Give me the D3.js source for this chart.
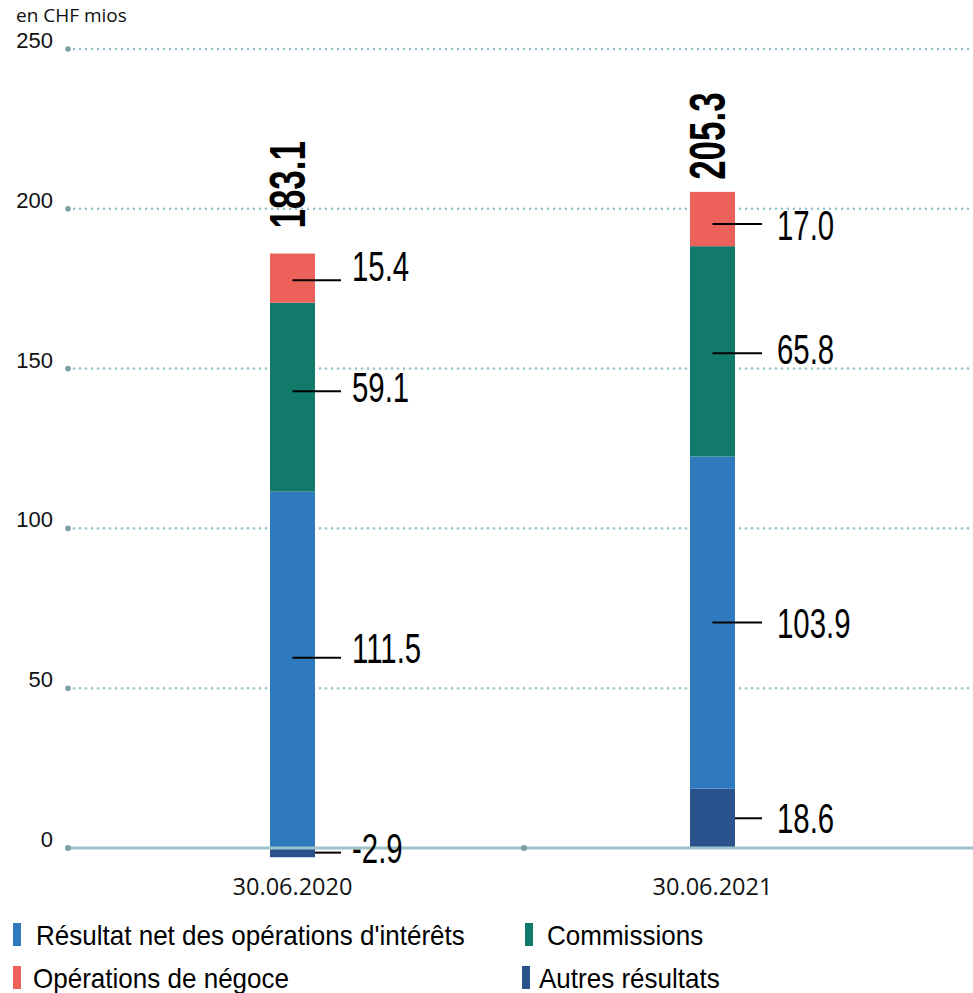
<!DOCTYPE html>
<html>
<head>
<meta charset="utf-8">
<script src="https://cdn.jsdelivr.net/npm/d3@7"></script>
<style>
  html, body { margin: 0; padding: 0; background: #fff; }
  svg { display: block; }
</style>
</head>
<body>
<svg id="chart" width="973" height="993"></svg>
<script>
// ---------------- DATA ----------------
const categories = ["30.06.2020", "30.06.2021"];
const seriesNames = ["Autres résultats", "Résultat net des opérations d'intérêts", "Commissions", "Opérations de négoce"];
const autres      = [-2.9, 18.6];
const interets    = [111.5, 103.9];
const commissions = [59.1, 65.8];
const negoce      = [15.4, 17.0];
const totals      = [183.1, 205.3];
const yTicks      = [0, 50, 100, 150, 200, 250];
const unitLabel   = "en CHF mios";

// ---------------- STYLE / LAYOUT ----------------
const colors = {
  "Autres résultats": "#2a528c",
  "Résultat net des opérations d'intérêts": "#2f7abf",
  "Commissions": "#127a6b",
  "Opérations de négoce": "#ec625b"
};
const gridLeft = 68, gridRight = 973;
const barWidth = 45;
// label vertical nudges (px) per category per series [autres, interets, commissions, negoce]
const textNudge = [[-5, -22, -10, -12], [0, 0, -2, 6]];
const lineNudge = [[0, -12, -6, 2], [0, 0, 2, 5]];
const totalGap  = [25, 12];
const labelX    = [352, 777];
const lineEndX  = [341, 762];
const condensed = 0.70;
const fmt = v => v.toFixed(1);

const svg = d3.select("#chart");

const y = d3.scaleLinear().domain([0, 250]).range([848, 49]);
const x = d3.scaleBand().domain(categories).range([82.5, 922.5]).paddingInner(0).paddingOuter(0);
const cx = c => x(c) + x.bandwidth() / 2;

// data table
const table = categories.map((c, i) => ({
  cat: c,
  "Autres résultats": autres[i],
  "Résultat net des opérations d'intérêts": interets[i],
  "Commissions": commissions[i],
  "Opérations de négoce": negoce[i]
}));
const stacked = d3.stack().keys(seriesNames).offset(d3.stackOffsetDiverging)(table);

// ---------------- GRID ----------------
const grid = svg.append("g");
yTicks.filter(t => t !== 0).forEach(t => {
  grid.append("line")
    .attr("x1", gridLeft).attr("x2", gridRight)
    .attr("y1", y(t)).attr("y2", y(t))
    .attr("stroke", "#93c3ca").attr("stroke-width", 2.6)
    .attr("stroke-linecap", "round").attr("stroke-dasharray", "0,6");
  grid.append("circle").attr("cx", gridLeft).attr("cy", y(t)).attr("r", 2.8).attr("fill", "#7f9ea3");
});

// tick labels
yTicks.forEach(t => {
  svg.append("text")
    .attr("x", 53).attr("y", y(t) - 1)
    .attr("text-anchor", "end")
    .attr("font-family", "'Liberation Sans', Arial, sans-serif")
    .attr("font-size", 22)
    .attr("fill", "#111")
    .text(t);
});
svg.append("text")
  .attr("x", 16).attr("y", 22)
  .attr("font-family", "'Open Sans', sans-serif")
  .attr("font-size", 19)
  .attr("fill", "#111")
  .text(unitLabel);

// ---------------- BARS ----------------
const barsG = svg.append("g");
stacked.forEach(s => {
  barsG.selectAll(null).data(s).enter().append("rect")
    .attr("x", d => cx(d.data.cat) - barWidth / 2)
    .attr("width", barWidth)
    .attr("y", d => y(Math.max(d[0], d[1])))
    .attr("height", d => Math.abs(y(d[0]) - y(d[1])))
    .attr("fill", colors[s.key]);
});

// zero line
svg.append("line")
  .attr("x1", gridLeft).attr("x2", gridRight)
  .attr("y1", y(0)).attr("y2", y(0))
  .attr("stroke", "#9cc4c9").attr("stroke-width", 3);
svg.append("circle").attr("cx", gridLeft).attr("cy", y(0)).attr("r", 3).attr("fill", "#7f9ea3");
svg.append("circle").attr("cx", 524).attr("cy", y(0)).attr("r", 3).attr("fill", "#7f9ea3");

// ---------------- SEGMENT LABELS ----------------
const lblG = svg.append("g");
stacked.forEach((s, si) => {
  s.forEach((d, ci) => {
    const mid = (y(d[0]) + y(d[1])) / 2;
    const ly = mid + lineNudge[ci][si];
    const xs = si === 0 ? cx(d.data.cat) + barWidth / 2 : cx(d.data.cat);
    lblG.append("line")
      .attr("x1", xs).attr("x2", lineEndX[ci])
      .attr("y1", ly).attr("y2", ly)
      .attr("stroke", "#000").attr("stroke-width", 2);
    const v = d.data[s.key];
    lblG.append("text")
      .attr("transform", `translate(${labelX[ci]},${mid + textNudge[ci][si]}) scale(${condensed},1)`)
      .attr("dy", "0.36em")
      .attr("font-family", "'Liberation Sans', Arial, sans-serif")
      .attr("font-size", 42)
      .attr("fill", "#000")
      .text(fmt(v));
  });
});

// totals (rotated)
categories.forEach((c, i) => {
  const top = d3.max(stacked, s => s[i][1]);
  svg.append("text")
    .attr("transform", `translate(${cx(c) + 12.5},${y(top) - totalGap[i]}) rotate(-90) scale(${condensed},1)`)
    .attr("font-family", "'Liberation Sans', Arial, sans-serif")
    .attr("font-weight", "bold")
    .attr("font-size", 50)
    .attr("fill", "#000")
    .text(fmt(totals[i]));
});

// x labels
categories.forEach(c => {
  svg.append("text")
    .attr("x", cx(c)).attr("y", 895)
    .attr("text-anchor", "middle")
    .attr("font-family", "'Open Sans', sans-serif")
    .attr("font-size", 23.5)
    .attr("fill", "#111")
    .text(c);
});

// ---------------- LEGEND ----------------
const legendItems = [
  { key: "Résultat net des opérations d'intérêts", mx: 13, tx: 36, row: 0 },
  { key: "Commissions", mx: 525, tx: 547, row: 0 },
  { key: "Opérations de négoce", mx: 13, tx: 33, row: 1 },
  { key: "Autres résultats", mx: 522, tx: 539, row: 1 }
];
const rowBase = [945, 988];
legendItems.forEach(it => {
  svg.append("rect")
    .attr("x", it.mx).attr("y", rowBase[it.row] - 22)
    .attr("width", 8).attr("height", 23)
    .attr("fill", colors[it.key]);
  svg.append("text")
    .attr("transform", `translate(${it.tx},${rowBase[it.row]}) scale(0.93,1)`)
    .attr("font-family", "'Liberation Sans', Arial, sans-serif")
    .attr("font-size", 28)
    .attr("fill", "#000")
    .text(it.key);
});
</script>
</body>
</html>
